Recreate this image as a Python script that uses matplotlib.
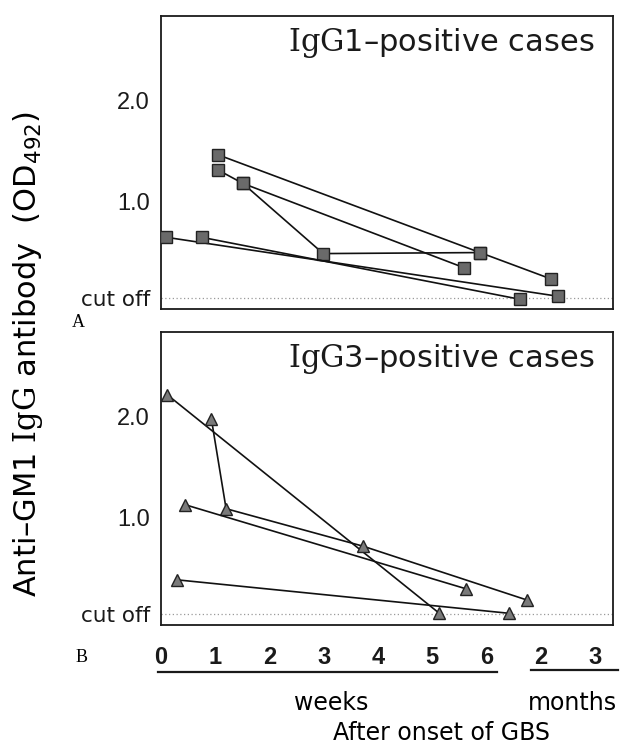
import matplotlib
matplotlib.use("Agg")
import matplotlib.pyplot as plt

plt.rcParams["mathtext.fontset"] = "custom"
plt.rcParams["mathtext.rm"] = "DejaVu Serif"
plt.rcParams["mathtext.sf"] = "DejaVu Sans"

# ----------------------------------------------------------------------
# data (x: weeks 0-6, then 7 = 2 months, 8 = 3 months)
# ----------------------------------------------------------------------
tick_pos = [0, 1, 2, 3, 4, 5, 6, 7, 8]
tick_labels = ["0", "1", "2", "3", "4", "5", "6", "2", "3"]
cutoff = 0.05

# IgG1-positive cases, one list per patient
igg1_x = [[1.06, 5.88, 7.19],
          [1.06, 1.51, 5.59],
          [1.51, 2.99, 5.88],
          [0.10, 7.32],
          [0.75, 6.62]]
igg1_y = [[1.46, 0.50, 0.24],
          [1.31, 1.18, 0.35],
          [1.18, 0.49, 0.50],
          [0.65, 0.07],
          [0.65, 0.04]]

# IgG3-positive cases
igg3_x = [[0.12, 5.13],
          [0.93, 1.20, 3.73, 6.75],
          [0.44, 5.63],
          [0.29, 6.42]]
igg3_y = [[2.21, 0.06],
          [1.97, 1.09, 0.72, 0.19],
          [1.13, 0.30],
          [0.39, 0.06]]

NUM = ["Liberation Sans Narrow", "Liberation Sans", "DejaVu Sans"]
SANS = "DejaVu Sans"


def setup_panel(ax, title):
    ax.set_xlim(0, 8.33)
    ax.set_ylim(-0.055, 2.83)
    for s in ax.spines.values():
        s.set_linewidth(1.3)
        s.set_color("#1a1a1a")
    ax.axhline(cutoff, color="#9a9a9a", lw=0.9, ls=(0, (1, 2)), zorder=1)
    ax.set_yticks([cutoff, 1.0, 2.0])
    ax.set_yticklabels(["cut off", "1.0", "2.0"])
    for lbl in ax.get_yticklabels():
        if lbl.get_text() == "cut off":
            lbl.set_fontfamily(SANS)
            lbl.set_fontsize(15.5)
        else:
            lbl.set_fontfamily(NUM)
            lbl.set_fontsize(17)
    ax.tick_params(axis="y", length=0, pad=8, colors="#1a1a1a")
    ax.text(0.958, 0.908, title, transform=ax.transAxes, ha="right",
            va="center", fontsize=22, family=SANS, color="#1a1a1a")


fig = plt.figure(figsize=(6.22, 7.46), dpi=100)
ax1 = fig.add_axes([0.2588, 0.5858, 0.7267, 0.3932])
ax2 = fig.add_axes([0.2588, 0.1622, 0.7267, 0.3928])

setup_panel(ax1, r"$\mathrm{IgG}$1–positive cases")
setup_panel(ax2, r"$\mathrm{IgG}$3–positive cases")

for xs, ys in zip(igg1_x, igg1_y):
    ax1.plot(xs, ys, color="#111111", lw=1.2, marker="s", markersize=8.5,
             markerfacecolor="#6a6a6a", markeredgecolor="#222222",
             markeredgewidth=1.0, zorder=3)

for xs, ys in zip(igg3_x, igg3_y):
    ax2.plot(xs, ys, color="#111111", lw=1.2, marker="^", markersize=8.5,
             markerfacecolor="#7a7a7a", markeredgecolor="#222222",
             markeredgewidth=1.0, zorder=3)

ax1.set_xticks([])
ax2.set_xticks(tick_pos)
ax2.set_xticklabels(tick_labels, fontfamily=NUM, fontsize=17,
                    fontweight="bold")
ax2.tick_params(axis="x", length=0, pad=15, colors="#1a1a1a")

# underlines for weeks / months
xt = ax2.get_xaxis_transform()
ax2.plot([-0.06, 6.19], [-0.160, -0.160], transform=xt, clip_on=False,
         color="#1a1a1a", lw=1.6)
ax2.plot([6.81, 8.43], [-0.153, -0.153], transform=xt, clip_on=False,
         color="#1a1a1a", lw=1.6)
ax2.text(3.14, -0.267, "weeks", transform=xt, ha="center", va="center",
         fontsize=17, family=SANS)
ax2.text(7.58, -0.267, "months", transform=xt, ha="center", va="center",
         fontsize=17, family=SANS)

fig.text(441.7 / 622, 1 - 733 / 746, "After onset of GBS", ha="center",
         va="center", fontsize=17, family=SANS)

fig.text(28 / 622, 1 - 354 / 746,
         r"Anti–GM1 $\mathrm{IgG}$ antibody  (OD$_{\mathsf{492}}$)",
         rotation=90, ha="center", va="center", fontsize=22, family=SANS)

fig.text(78.5 / 622, 1 - 322 / 746, "A", ha="center", va="center",
         fontsize=13, family="Liberation Serif")
fig.text(82 / 622, 1 - 658 / 746, "B", ha="center", va="center",
         fontsize=13, family="Liberation Serif")

fig.savefig("out.png", dpi=100)
